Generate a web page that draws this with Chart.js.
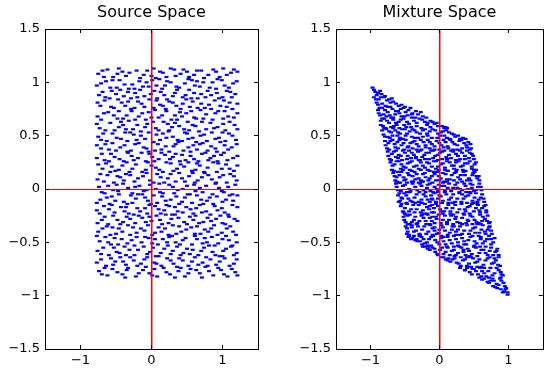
<!DOCTYPE html>
<html>
<head>
<meta charset="utf-8">
<script src="https://cdn.jsdelivr.net/npm/chart.js@4.4.1/dist/chart.umd.min.js"></script>
<style>
  body { margin: 0; background: #fff; }
  #wrap { position: relative; width: 549px; height: 369px; }
  canvas { position: absolute; top: 0; }
  #srcChart { left: 0; }
  #mixChart { left: 290px; }
</style>
</head>
<body>
<div id="wrap">
  <canvas id="srcChart" width="290" height="369"></canvas>
  <canvas id="mixChart" width="259" height="369"></canvas>
</div>
<script>
const titles = ['Source Space', 'Mixture Space'];
const xTicks = [-1, 0, 1];
const xTickLabels = ['\u22121', '0', '1'];
const yTicks = [-1.5, -1, -0.5, 0, 0.5, 1, 1.5];
const yTickLabels = ['\u22121.5', '\u22121', '\u22120.5', '0', '0.5', '1', '1.5'];

// points, band by band from the bottom
const sourcePoints = [
  [-0.74,-0.77],[-0.62,-0.81],[-0.55,-0.75],[-0.41,-0.80],[-0.33,-0.74],[-0.22,-0.82],[-0.12,-0.76],[-0.03,-0.79],[0.08,-0.82],[0.17,-0.74],[0.26,-0.80],[0.38,-0.77],[0.47,-0.82],[0.55,-0.75],[0.68,-0.79],[0.76,-0.73],[0.87,-0.81],[0.98,-0.76],[1.07,-0.82],[1.18,-0.78],
  [-0.71,-0.66],[-0.64,-0.72],[-0.51,-0.68],[-0.44,-0.64],[-0.36,-0.71],[-0.25,-0.67],[-0.15,-0.70],[-0.06,-0.64],[0.04,-0.69],[0.14,-0.72],[0.22,-0.65],[0.31,-0.70],[0.44,-0.67],[0.52,-0.72],[0.61,-0.64],[0.72,-0.69],[0.83,-0.66],[0.91,-0.71],[1.03,-0.65],[1.16,-0.70],
  [-0.76,-0.58],[-0.60,-0.62],[-0.53,-0.55],[-0.45,-0.60],[-0.31,-0.57],[-0.24,-0.62],[-0.11,-0.54],[-0.02,-0.59],[0.06,-0.63],[0.18,-0.56],[0.27,-0.61],[0.36,-0.54],[0.45,-0.60],[0.58,-0.57],[0.66,-0.62],[0.74,-0.55],[0.86,-0.59],[0.96,-0.63],[1.05,-0.56],[1.20,-0.60],
  [-0.73,-0.49],[-0.65,-0.45],[-0.57,-0.52],[-0.42,-0.47],[-0.34,-0.51],[-0.21,-0.45],[-0.14,-0.50],[-0.04,-0.46],[0.09,-0.52],[0.16,-0.47],[0.29,-0.44],[0.34,-0.50],[0.48,-0.46],[0.57,-0.52],[0.64,-0.47],[0.78,-0.50],[0.85,-0.45],[0.94,-0.51],[1.09,-0.48],[1.14,-0.53],
  [-0.75,-0.40],[-0.63,-0.35],[-0.50,-0.42],[-0.46,-0.37],[-0.30,-0.43],[-0.26,-0.36],[-0.10,-0.39],[-0.05,-0.34],[0.05,-0.41],[0.19,-0.37],[0.24,-0.43],[0.39,-0.35],[0.42,-0.40],[0.56,-0.36],[0.69,-0.42],[0.75,-0.38],[0.88,-0.34],[0.99,-0.41],[1.06,-0.37],[1.19,-0.43],
  [-0.70,-0.29],[-0.61,-0.33],[-0.54,-0.25],[-0.40,-0.31],[-0.35,-0.26],[-0.23,-0.32],[-0.13,-0.27],[0.00,-0.30],[0.07,-0.25],[0.15,-0.33],[0.28,-0.28],[0.33,-0.24],[0.46,-0.31],[0.54,-0.26],[0.67,-0.32],[0.79,-0.27],[0.84,-0.30],[0.97,-0.25],[1.04,-0.33],[1.17,-0.28],
  [-0.77,-0.20],[-0.67,-0.16],[-0.52,-0.22],[-0.43,-0.17],[-0.32,-0.23],[-0.20,-0.18],[-0.16,-0.21],[-0.03,-0.15],[0.10,-0.19],[0.13,-0.23],[0.25,-0.16],[0.37,-0.21],[0.49,-0.17],[0.59,-0.23],[0.63,-0.18],[0.71,-0.22],[0.89,-0.16],[0.93,-0.20],[1.08,-0.24],[1.21,-0.17],
  [-0.72,-0.10],[-0.59,-0.14],[-0.56,-0.07],[-0.39,-0.12],[-0.29,-0.06],[-0.27,-0.13],[-0.09,-0.08],[-0.01,-0.14],[0.03,-0.06],[0.20,-0.11],[0.21,-0.15],[0.35,-0.07],[0.43,-0.12],[0.51,-0.05],[0.70,-0.10],[0.73,-0.14],[0.82,-0.08],[1.00,-0.12],[1.10,-0.06],[1.15,-0.11],
  [-0.74,0.02],[-0.66,-0.04],[-0.49,0.04],[-0.47,-0.02],[-0.33,0.01],[-0.19,-0.05],[-0.17,0.03],[-0.07,-0.01],[0.11,0.05],[0.12,-0.03],[0.30,0.02],[0.32,-0.04],[0.44,0.00],[0.60,0.04],[0.62,-0.02],[0.77,0.03],[0.86,-0.05],[0.95,0.01],[1.02,-0.03],[1.18,0.04],
  [-0.76,0.09],[-0.62,0.13],[-0.53,0.06],[-0.44,0.11],[-0.36,0.14],[-0.24,0.07],[-0.12,0.12],[-0.02,0.08],[0.08,0.14],[0.18,0.06],[0.23,0.10],[0.39,0.15],[0.47,0.07],[0.53,0.12],[0.65,0.08],[0.80,0.13],[0.91,0.06],[0.96,0.11],[1.11,0.14],[1.20,0.08],
  [-0.69,0.19],[-0.64,0.24],[-0.51,0.17],[-0.41,0.22],[-0.31,0.16],[-0.22,0.23],[-0.08,0.18],[-0.05,0.25],[0.06,0.20],[0.16,0.16],[0.27,0.24],[0.36,0.19],[0.41,0.23],[0.57,0.17],[0.68,0.22],[0.74,0.16],[0.87,0.25],[0.99,0.19],[1.05,0.23],[1.16,0.17],
  [-0.77,0.29],[-0.60,0.26],[-0.57,0.33],[-0.45,0.28],[-0.28,0.31],[-0.25,0.27],[-0.14,0.34],[0.01,0.30],[0.04,0.26],[0.19,0.32],[0.26,0.28],[0.34,0.33],[0.48,0.27],[0.55,0.31],[0.66,0.26],[0.76,0.34],[0.83,0.29],[0.98,0.32],[1.07,0.27],[1.21,0.31],
  [-0.71,0.38],[-0.65,0.42],[-0.50,0.36],[-0.38,0.41],[-0.34,0.35],[-0.18,0.43],[-0.11,0.39],[-0.04,0.35],[0.09,0.42],[0.14,0.37],[0.31,0.40],[0.38,0.44],[0.45,0.36],[0.59,0.41],[0.64,0.37],[0.72,0.43],[0.90,0.38],[0.92,0.35],[1.03,0.41],[1.13,0.39],
  [-0.75,0.49],[-0.63,0.45],[-0.55,0.52],[-0.43,0.47],[-0.30,0.53],[-0.21,0.46],[-0.15,0.50],[0.02,0.44],[0.07,0.51],[0.21,0.48],[0.24,0.54],[0.37,0.46],[0.50,0.52],[0.52,0.47],[0.69,0.50],[0.78,0.45],[0.85,0.53],[0.95,0.48],[1.09,0.52],[1.19,0.46],
  [-0.73,0.57],[-0.58,0.62],[-0.52,0.55],[-0.40,0.60],[-0.32,0.64],[-0.26,0.56],[-0.06,0.61],[-0.09,0.58],[0.10,0.55],[0.17,0.63],[0.29,0.58],[0.33,0.62],[0.46,0.56],[0.58,0.60],[0.67,0.54],[0.71,0.63],[0.88,0.57],[1.01,0.61],[1.04,0.55],[1.17,0.60],
  [-0.76,0.68],[-0.61,0.72],[-0.48,0.66],[-0.46,0.73],[-0.35,0.69],[-0.23,0.65],[-0.13,0.71],[0.00,0.67],[0.05,0.74],[0.15,0.69],[0.28,0.65],[0.40,0.72],[0.43,0.68],[0.56,0.73],[0.63,0.66],[0.77,0.70],[0.86,0.65],[0.94,0.73],[1.08,0.68],[1.21,0.71],
  [-0.72,0.78],[-0.66,0.83],[-0.53,0.76],[-0.42,0.81],[-0.29,0.75],[-0.19,0.82],[-0.10,0.77],[-0.03,0.84],[0.12,0.79],[0.20,0.75],[0.25,0.82],[0.35,0.78],[0.49,0.84],[0.54,0.77],[0.70,0.80],[0.75,0.76],[0.89,0.83],[0.97,0.78],[1.10,0.81],[1.14,0.75],
  [-0.74,0.88],[-0.59,0.85],[-0.56,0.92],[-0.39,0.87],[-0.33,0.91],[-0.20,0.86],[-0.16,0.93],[-0.01,0.89],[0.08,0.85],[0.13,0.91],[0.30,0.87],[0.36,0.93],[0.44,0.86],[0.60,0.90],[0.65,0.85],[0.79,0.92],[0.84,0.88],[1.00,0.86],[1.06,0.92],[1.18,0.89],
  [-0.77,0.97],[-0.64,1.01],[-0.49,0.95],[-0.45,1.02],[-0.27,0.98],[-0.24,0.94],[-0.07,1.00],[-0.04,0.96],[0.11,1.03],[0.19,0.97],[0.22,1.01],[0.39,0.95],[0.47,0.99],[0.57,1.02],[0.68,0.96],[0.73,1.00],[0.91,0.94],[0.93,1.03],[1.03,0.97],[1.20,1.01],
  [-0.75,1.08],[-0.62,1.12],[-0.54,1.05],[-0.41,1.10],[-0.36,1.06],[-0.21,1.11],[-0.11,1.07],[0.03,1.13],[0.06,1.04],[0.16,1.09],[0.32,1.12],[0.34,1.06],[0.50,1.10],[0.53,1.05],[0.64,1.11],[0.80,1.07],[0.87,1.12],[0.96,1.05],[1.12,1.09],[1.16,1.12],
  [-0.70,-0.80],[-0.66,-0.74],[-0.48,-0.78],[-0.37,-0.83],[-0.35,-0.76],[-0.18,-0.79],[-0.08,-0.73],[0.01,-0.81],[0.04,-0.75],[0.21,-0.78],[0.33,-0.83],[0.41,-0.74],[0.52,-0.79],[0.63,-0.76],[0.71,-0.83],[0.81,-0.77],[0.94,-0.74],[1.02,-0.80],[1.13,-0.75],[1.21,-0.81],
  [-0.77,-0.69],[-0.57,-0.65],[-0.54,-0.71],[-0.40,-0.68],[-0.30,-0.64],[-0.20,-0.72],[-0.10,-0.66],[0.07,-0.70],[0.10,-0.63],[0.27,-0.67],[0.36,-0.73],[0.39,-0.65],[0.57,-0.68],[0.66,-0.71],[0.77,-0.64],[0.79,-0.72],[0.96,-0.68],[1.00,-0.63],[1.10,-0.72],[1.20,-0.66],
  [-0.68,-0.55],[-0.71,-0.61],[-0.49,-0.59],[-0.38,-0.54],[-0.36,-0.62],[-0.19,-0.57],[-0.06,-0.61],[0.02,-0.55],[0.13,-0.60],[0.23,-0.53],[0.30,-0.58],[0.41,-0.62],[0.50,-0.56],[0.54,-0.61],[0.70,-0.58],[0.81,-0.53],[0.90,-0.62],[1.01,-0.58],[1.12,-0.54],[1.16,-0.62],
  [-0.77,-0.44],[-0.61,-0.50],[-0.52,-0.46],[-0.47,-0.52],[-0.28,-0.48],[-0.24,-0.53],[-0.09,-0.45],[0.01,-0.51],[0.05,-0.47],[0.22,-0.50],[0.25,-0.45],[0.40,-0.52],[0.44,-0.48],[0.61,-0.44],[0.72,-0.51],[0.75,-0.46],[0.89,-0.53],[1.00,-0.47],[1.05,-0.44],[1.20,-0.50],
  [-0.69,-0.37],[-0.58,-0.43],[-0.55,-0.36],[-0.41,-0.40],[-0.33,-0.34],[-0.21,-0.41],[-0.15,-0.37],[0.01,-0.43],[0.10,-0.36],[0.14,-0.40],[0.30,-0.34],[0.35,-0.42],[0.49,-0.38],[0.61,-0.42],[0.64,-0.35],[0.80,-0.40],[0.84,-0.37],[0.93,-0.43],[1.11,-0.35],[1.15,-0.40],
  [-0.76,-0.32],[-0.66,-0.26],[-0.48,-0.29],[-0.44,-0.33],[-0.30,-0.28],[-0.18,-0.25],[-0.08,-0.31],[-0.03,-0.26],[0.12,-0.29],[0.20,-0.24],[0.24,-0.32],[0.38,-0.27],[0.50,-0.33],[0.59,-0.29],[0.62,-0.25],[0.73,-0.31],[0.91,-0.28],[1.00,-0.32],[1.09,-0.26],[1.21,-0.30],
  [-0.73,-0.23],[-0.60,-0.19],[-0.56,-0.15],[-0.38,-0.21],[-0.36,-0.17],[-0.25,-0.24],[-0.09,-0.18],[-0.06,-0.23],[0.05,-0.16],[0.18,-0.20],[0.29,-0.24],[0.33,-0.17],[0.44,-0.22],[0.55,-0.19],[0.68,-0.15],[0.77,-0.21],[0.83,-0.24],[0.99,-0.18],[1.03,-0.22],[1.14,-0.15],
  [-0.77,-0.13],[-0.63,-0.08],[-0.51,-0.11],[-0.46,-0.05],[-0.34,-0.14],[-0.22,-0.09],[-0.13,-0.05],[-0.05,-0.11],[0.08,-0.13],[0.15,-0.07],[0.27,-0.10],[0.39,-0.14],[0.47,-0.08],[0.57,-0.13],[0.64,-0.06],[0.78,-0.11],[0.87,-0.14],[0.92,-0.07],[1.05,-0.10],[1.21,-0.06],
  [-0.70,-0.03],[-0.61,0.03],[-0.54,-0.01],[-0.40,0.05],[-0.27,-0.04],[-0.23,0.02],[-0.11,-0.02],[-0.02,0.04],[0.06,0.00],[0.16,-0.04],[0.25,0.04],[0.37,-0.01],[0.50,0.03],[0.54,-0.05],[0.68,0.01],[0.72,-0.03],[0.90,0.05],[0.99,-0.02],[1.08,0.02],[1.14,-0.05],
  [-0.72,0.14],[-0.67,0.07],[-0.48,0.12],[-0.39,0.08],[-0.30,0.13],[-0.19,0.10],[-0.07,0.15],[0.03,0.06],[0.13,0.11],[0.27,0.14],[0.34,0.07],[0.43,0.10],[0.58,0.15],[0.61,0.06],[0.71,0.11],[0.75,0.15],[0.85,0.09],[1.01,0.13],[1.06,0.06],[1.16,0.12],
  [-0.75,0.23],[-0.58,0.16],[-0.56,0.21],[-0.46,0.18],[-0.35,0.25],[-0.27,0.19],[-0.13,0.16],[0.00,0.22],[0.11,0.18],[0.21,0.25],[0.31,0.17],[0.46,0.21],[0.52,0.25],[0.62,0.18],[0.64,0.24],[0.79,0.20],[0.92,0.16],[0.94,0.24],[1.10,0.19],[1.21,0.22],
  [-0.70,0.33],[-0.66,0.27],[-0.52,0.30],[-0.39,0.26],[-0.33,0.34],[-0.19,0.29],[-0.08,0.26],[-0.03,0.33],[0.10,0.28],[0.14,0.34],[0.30,0.30],[0.40,0.26],[0.43,0.32],[0.60,0.28],[0.71,0.33],[0.80,0.27],[0.88,0.31],[0.93,0.26],[1.02,0.34],[1.15,0.29],
  [-0.77,0.41],[-0.60,0.37],[-0.55,0.43],[-0.44,0.39],[-0.29,0.36],[-0.23,0.42],[-0.07,0.38],[0.03,0.44],[0.05,0.36],[0.20,0.40],[0.25,0.35],[0.34,0.42],[0.52,0.39],[0.55,0.35],[0.68,0.42],[0.79,0.36],[0.84,0.40],[0.97,0.44],[1.08,0.37],[1.20,0.42],
  [-0.68,0.52],[-0.71,0.46],[-0.49,0.48],[-0.37,0.53],[-0.34,0.45],[-0.25,0.51],[-0.09,0.47],[-0.04,0.53],[0.12,0.46],[0.16,0.52],[0.30,0.49],[0.43,0.45],[0.47,0.53],[0.58,0.48],[0.63,0.44],[0.74,0.51],[0.90,0.47],[1.00,0.53],[1.04,0.45],[1.14,0.50],
  [-0.77,0.61],[-0.65,0.55],[-0.46,0.58],[-0.43,0.63],[-0.36,0.56],[-0.20,0.60],[-0.15,0.54],[0.02,0.63],[0.06,0.57],[0.23,0.61],[0.25,0.55],[0.39,0.59],[0.51,0.63],[0.53,0.55],[0.62,0.59],[0.77,0.56],[0.83,0.62],[0.93,0.58],[1.10,0.63],[1.21,0.56],
  [-0.71,0.65],[-0.67,0.71],[-0.53,0.69],[-0.40,0.66],[-0.28,0.73],[-0.18,0.68],[-0.08,0.65],[-0.04,0.72],[0.10,0.67],[0.21,0.73],[0.33,0.69],[0.36,0.65],[0.49,0.71],[0.60,0.67],[0.69,0.74],[0.73,0.66],[0.90,0.71],[1.01,0.66],[1.03,0.73],[1.16,0.67],
  [-0.76,0.81],[-0.57,0.77],[-0.47,0.84],[-0.37,0.78],[-0.33,0.82],[-0.24,0.76],[-0.14,0.80],[0.03,0.76],[0.07,0.83],[0.16,0.78],[0.30,0.81],[0.41,0.75],[0.44,0.80],[0.58,0.82],[0.65,0.76],[0.81,0.79],[0.84,0.75],[1.02,0.83],[1.06,0.77],[1.21,0.80],
  [-0.69,0.91],[-0.65,0.86],[-0.50,0.89],[-0.44,0.93],[-0.29,0.85],[-0.23,0.90],[-0.10,0.87],[0.04,0.92],[0.18,0.88],[0.22,0.84],[0.33,0.90],[0.48,0.88],[0.53,0.93],[0.56,0.85],[0.70,0.89],[0.76,0.86],[0.92,0.90],[0.95,0.85],[1.11,0.91],[1.13,0.86],
  [-0.71,0.99],[-0.58,0.95],[-0.55,1.02],[-0.38,0.98],[-0.32,0.94],[-0.17,1.01],[-0.12,0.96],[0.01,1.02],[0.07,0.97],[0.15,0.94],[0.27,1.00],[0.35,0.96],[0.52,1.03],[0.61,0.97],[0.64,1.01],[0.82,0.95],[0.86,1.00],[0.99,1.02],[1.09,0.95],[1.15,0.99],
  [-0.69,1.11],[-0.67,1.05],[-0.48,1.08],[-0.46,1.13],[-0.31,1.09],[-0.16,1.04],[-0.06,1.11],[0.00,1.06],[0.12,1.10],[0.21,1.05],[0.27,1.13],[0.41,1.08],[0.45,1.12],[0.60,1.07],[0.70,1.11],[0.74,1.04],[0.91,1.10],[1.01,1.13],[1.06,1.07],[1.21,1.10]
];

// points (the skewed parallelogram), top to bottom
const mixturePoints = [
  [-0.97,0.95],[-0.93,0.91],[-0.84,0.89],[-0.79,0.87],
  [-0.92,0.84],[-0.85,0.86],[-0.76,0.83],[-0.69,0.85],[-0.89,0.79],[-0.78,0.78],[-0.63,0.80],[-0.55,0.79],[-0.71,0.81],
  [-0.89,0.74],[-0.83,0.76],[-0.75,0.72],[-0.68,0.75],[-0.60,0.73],[-0.52,0.76],[-0.45,0.74],[-0.39,0.71],[-0.86,0.69],[-0.77,0.68],[-0.64,0.70],[-0.55,0.68],[-0.31,0.70],[-0.24,0.68],[-0.46,0.69],
  [-0.85,0.64],[-0.80,0.66],[-0.73,0.62],[-0.67,0.65],[-0.59,0.63],[-0.52,0.66],[-0.44,0.61],[-0.37,0.64],[-0.29,0.66],[-0.21,0.63],[-0.13,0.64],[-0.82,0.59],[-0.70,0.58],[-0.62,0.60],[-0.48,0.58],[-0.33,0.59],[-0.18,0.60],[-0.07,0.61],[0.04,0.59],[0.09,0.58],
  [-0.83,0.55],[-0.77,0.56],[-0.70,0.53],[-0.64,0.55],[-0.57,0.52],[-0.50,0.56],[-0.43,0.54],[-0.36,0.55],[-0.28,0.52],[-0.21,0.56],[-0.14,0.54],[-0.06,0.55],[0.02,0.53],[0.10,0.55],[0.18,0.52],[-0.79,0.49],[-0.72,0.48],[-0.61,0.50],[-0.53,0.47],[-0.40,0.49],[-0.31,0.48],[-0.17,0.50],[-0.03,0.48],[0.07,0.50],[0.23,0.49],[0.34,0.48],[0.15,0.47],
  [-0.79,0.45],[-0.74,0.43],[-0.68,0.46],[-0.61,0.44],[-0.55,0.41],[-0.49,0.46],[-0.42,0.43],[-0.36,0.45],[-0.30,0.40],[-0.23,0.44],[-0.17,0.46],[-0.11,0.42],[-0.04,0.45],[0.03,0.41],[0.09,0.44],[0.16,0.46],[0.22,0.42],[0.29,0.45],[0.36,0.43],[0.42,0.44],[-0.76,0.38],[-0.64,0.39],[-0.51,0.37],[-0.39,0.38],[-0.26,0.37],[-0.14,0.38],[0.00,0.37],[0.13,0.38],[0.26,0.37],[0.40,0.39],[0.46,0.38],
  [-0.75,0.35],[-0.69,0.33],[-0.63,0.36],[-0.56,0.31],[-0.50,0.34],[-0.44,0.36],[-0.37,0.32],[-0.31,0.35],[-0.25,0.30],[-0.19,0.34],[-0.12,0.36],[-0.06,0.31],[0.01,0.34],[0.07,0.36],[0.14,0.32],[0.20,0.35],[0.27,0.31],[0.33,0.34],[0.40,0.36],[0.47,0.33],[-0.72,0.28],[-0.60,0.29],[-0.47,0.28],[-0.34,0.29],[-0.21,0.28],[-0.09,0.29],[0.04,0.28],[0.17,0.29],[0.30,0.28],[0.43,0.29],[0.50,0.28],
  [-0.71,0.25],[-0.65,0.23],[-0.59,0.26],[-0.52,0.21],[-0.46,0.24],[-0.40,0.26],[-0.33,0.22],[-0.27,0.25],[-0.21,0.20],[-0.15,0.24],[-0.08,0.26],[-0.02,0.21],[0.05,0.24],[0.11,0.26],[0.18,0.22],[0.24,0.25],[0.31,0.21],[0.37,0.24],[0.44,0.26],[0.51,0.23],[-0.69,0.18],[-0.56,0.19],[-0.43,0.18],[-0.30,0.19],[-0.17,0.18],[-0.05,0.19],[0.08,0.18],[0.21,0.19],[0.34,0.18],[0.47,0.19],[0.53,0.18],
  [-0.67,0.15],[-0.62,0.11],[-0.55,0.16],[-0.49,0.09],[-0.44,0.13],[-0.36,0.16],[-0.30,0.10],[-0.24,0.14],[-0.16,0.08],[-0.11,0.12],[-0.03,0.16],[0.02,0.10],[0.09,0.14],[0.15,0.09],[0.22,0.15],[0.27,0.11],[0.35,0.16],[0.40,0.08],[0.48,0.13],[0.55,0.10],[-0.64,0.08],[-0.58,0.13],[-0.40,0.07],[-0.20,0.11],[0.00,0.08],[0.12,0.17],[0.31,0.13],[0.51,0.16],[0.58,0.08],[-0.07,0.14],
  [-0.63,0.05],[-0.60,-0.01],[-0.53,0.03],[-0.47,0.06],[-0.42,-0.02],[-0.35,0.02],[-0.28,0.05],[-0.23,-0.01],[-0.17,0.04],[-0.10,0.06],[-0.04,0.00],[0.03,0.03],[0.08,-0.02],[0.14,0.05],[0.20,0.01],[0.26,0.06],[0.33,-0.01],[0.38,0.03],[0.45,0.05],[0.50,-0.02],[0.56,0.02],[0.61,-0.01],[-0.57,0.06],[-0.38,0.07],[-0.13,-0.02],[0.11,0.07],[0.30,0.00],[0.47,0.01],[-0.25,0.07],[-0.01,0.04],
  [-0.60,-0.06],[-0.57,-0.11],[-0.51,-0.04],[-0.45,-0.09],[-0.39,-0.12],[-0.33,-0.05],[-0.26,-0.10],[-0.20,-0.07],[-0.14,-0.12],[-0.07,-0.04],[-0.02,-0.09],[0.05,-0.11],[0.10,-0.05],[0.17,-0.08],[0.23,-0.12],[0.29,-0.04],[0.35,-0.09],[0.42,-0.06],[0.48,-0.11],[0.53,-0.04],[0.60,-0.08],[0.65,-0.12],[-0.48,-0.13],[-0.29,-0.03],[-0.10,-0.10],[0.13,-0.13],[0.39,-0.03],[0.57,-0.10],[-0.55,-0.08],[0.00,-0.06],
  [-0.56,-0.16],[-0.53,-0.21],[-0.47,-0.14],[-0.41,-0.19],[-0.36,-0.22],[-0.30,-0.15],[-0.24,-0.20],[-0.18,-0.17],[-0.11,-0.22],[-0.05,-0.14],[0.01,-0.19],[0.07,-0.21],[0.13,-0.15],[0.19,-0.18],[0.26,-0.22],[0.32,-0.14],[0.37,-0.19],[0.44,-0.16],[0.50,-0.21],[0.55,-0.14],[0.62,-0.18],[0.68,-0.22],[-0.50,-0.23],[-0.26,-0.13],[-0.08,-0.18],[0.16,-0.23],[0.40,-0.13],[0.58,-0.20],[0.67,-0.15],[-0.14,-0.16],
  [-0.52,-0.26],[-0.49,-0.31],[-0.43,-0.24],[-0.37,-0.29],[-0.32,-0.32],[-0.26,-0.25],[-0.20,-0.30],[-0.14,-0.27],[-0.07,-0.32],[-0.01,-0.24],[0.05,-0.29],[0.11,-0.31],[0.17,-0.25],[0.23,-0.28],[0.30,-0.32],[0.36,-0.24],[0.41,-0.29],[0.48,-0.26],[0.54,-0.31],[0.59,-0.24],[0.66,-0.28],[0.72,-0.32],[-0.46,-0.33],[-0.22,-0.23],[-0.04,-0.28],[0.20,-0.33],[0.44,-0.23],[0.62,-0.30],[0.70,-0.25],[-0.10,-0.26],
  [-0.49,-0.35],[-0.46,-0.40],[-0.40,-0.34],[-0.34,-0.39],[-0.29,-0.42],[-0.22,-0.35],[-0.16,-0.40],[-0.10,-0.37],[-0.04,-0.42],[0.03,-0.34],[0.08,-0.39],[0.15,-0.41],[0.21,-0.35],[0.27,-0.38],[0.33,-0.42],[0.40,-0.34],[0.45,-0.39],[0.52,-0.36],[0.58,-0.41],[0.63,-0.34],[0.70,-0.38],[0.76,-0.42],[-0.44,-0.43],[-0.19,-0.33],[0.00,-0.38],[0.24,-0.43],[0.48,-0.33],[0.66,-0.40],[0.73,-0.35],[-0.07,-0.36],
  [-0.45,-0.45],[-0.41,-0.47],[-0.37,-0.44],[-0.32,-0.49],[-0.26,-0.45],[-0.21,-0.51],[-0.15,-0.47],[-0.09,-0.44],[-0.03,-0.50],[0.03,-0.46],[0.09,-0.52],[0.15,-0.48],[0.21,-0.44],[0.27,-0.50],[0.33,-0.46],[0.39,-0.52],[0.45,-0.45],[0.51,-0.49],[0.57,-0.44],[0.63,-0.51],[0.69,-0.47],[0.75,-0.52],[0.80,-0.46],[-0.25,-0.52],[-0.12,-0.53],[0.06,-0.45],[0.36,-0.49],[0.60,-0.47],[-0.33,-0.47],
  [-0.24,-0.54],[-0.17,-0.56],[-0.10,-0.55],[-0.06,-0.59],[0.01,-0.57],[0.06,-0.61],[0.12,-0.55],[0.18,-0.58],[0.24,-0.62],[0.29,-0.54],[0.35,-0.59],[0.41,-0.56],[0.47,-0.61],[0.53,-0.55],[0.58,-0.60],[0.64,-0.57],[0.70,-0.62],[0.75,-0.55],[0.81,-0.59],[0.86,-0.62],[-0.02,-0.62],[0.21,-0.54],[0.44,-0.63],[0.67,-0.54],[0.84,-0.56],
  [0.03,-0.64],[0.09,-0.66],[0.16,-0.68],[0.22,-0.65],[0.28,-0.70],[0.34,-0.67],[0.40,-0.72],[0.46,-0.64],[0.52,-0.69],[0.58,-0.66],[0.64,-0.71],[0.70,-0.65],[0.76,-0.70],[0.82,-0.67],[0.88,-0.72],[0.31,-0.64],[0.55,-0.73],[0.86,-0.64],[0.13,-0.65],
  [0.30,-0.74],[0.37,-0.76],[0.44,-0.78],[0.50,-0.75],[0.56,-0.80],[0.62,-0.77],[0.68,-0.82],[0.74,-0.74],[0.80,-0.79],[0.86,-0.76],[0.92,-0.81],[0.65,-0.74],[0.89,-0.83],[0.58,-0.83],
  [0.62,-0.85],[0.70,-0.87],[0.77,-0.84],[0.83,-0.89],[0.90,-0.86],[0.95,-0.91],[0.81,-0.92],[0.74,-0.86],
  [0.89,-0.94],[0.94,-0.96],[0.99,-0.99],[0.97,-0.93],
  [-0.95,0.93],[-0.89,0.90],[-0.86,0.92],[-0.91,0.88],
  [-0.95,0.86],[-0.88,0.84],[-0.80,0.86],[-0.73,0.84],[-0.91,0.81],[-0.83,0.80],[-0.67,0.82],[-0.59,0.78],[-0.75,0.77],[-0.50,0.77],
  [-0.87,0.76],[-0.79,0.74],[-0.71,0.77],[-0.63,0.73],[-0.56,0.75],[-0.49,0.72],[-0.42,0.76],[-0.34,0.73],[-0.88,0.71],[-0.81,0.70],[-0.72,0.69],[-0.67,0.67],[-0.58,0.71],[-0.51,0.68],[-0.40,0.70],[-0.35,0.67],[-0.27,0.72],[-0.19,0.67],
  [-0.83,0.66],[-0.76,0.64],[-0.70,0.67],[-0.63,0.62],[-0.56,0.65],[-0.47,0.63],[-0.40,0.67],[-0.33,0.62],[-0.25,0.65],[-0.17,0.62],[-0.10,0.63],[-0.04,0.62],[-0.85,0.60],[-0.78,0.57],[-0.66,0.59],[-0.58,0.57],[-0.51,0.60],[-0.41,0.58],[-0.26,0.57],[-0.13,0.58],[-0.02,0.59],[0.07,0.57],[0.11,0.57],
  [-0.80,0.57],[-0.73,0.54],[-0.67,0.57],[-0.60,0.53],[-0.54,0.56],[-0.47,0.52],[-0.39,0.56],[-0.33,0.53],[-0.24,0.55],[-0.18,0.52],[-0.10,0.56],[-0.02,0.52],[0.05,0.54],[0.14,0.53],[0.21,0.51],[0.27,0.50],[-0.81,0.51],[-0.75,0.49],[-0.68,0.50],[-0.57,0.48],[-0.49,0.50],[-0.36,0.48],[-0.24,0.49],[-0.11,0.48],[0.01,0.50],[0.11,0.48],[0.30,0.47],[0.38,0.47],
  [-0.78,0.41],[-0.71,0.45],[-0.65,0.42],[-0.58,0.46],[-0.52,0.43],[-0.45,0.40],[-0.39,0.44],[-0.33,0.42],[-0.27,0.46],[-0.20,0.41],[-0.14,0.44],[-0.07,0.40],[0.00,0.43],[0.06,0.46],[0.12,0.40],[0.19,0.44],[0.26,0.41],[0.32,0.46],[0.39,0.41],[0.45,0.42],[-0.73,0.37],[-0.60,0.38],[-0.46,0.39],[-0.33,0.37],[-0.20,0.39],[-0.07,0.37],[0.06,0.39],[0.20,0.37],[0.33,0.38],[0.44,0.37],
  [-0.74,0.31],[-0.66,0.35],[-0.59,0.32],[-0.53,0.36],[-0.46,0.31],[-0.40,0.34],[-0.34,0.30],[-0.28,0.36],[-0.22,0.32],[-0.15,0.34],[-0.09,0.36],[-0.02,0.32],[0.04,0.35],[0.10,0.30],[0.17,0.36],[0.24,0.33],[0.30,0.36],[0.37,0.31],[0.44,0.34],[0.49,0.31],[-0.70,0.27],[-0.63,0.30],[-0.54,0.27],[-0.41,0.29],[-0.28,0.27],[-0.15,0.28],[-0.02,0.27],[0.11,0.28],[0.24,0.27],[0.37,0.28],
  [-0.68,0.22],[-0.62,0.26],[-0.55,0.23],[-0.49,0.20],[-0.43,0.25],[-0.37,0.21],[-0.30,0.27],[-0.24,0.22],[-0.18,0.25],[-0.11,0.21],[-0.05,0.26],[0.02,0.23],[0.08,0.20],[0.15,0.25],[0.21,0.22],[0.28,0.26],[0.34,0.22],[0.41,0.24],[0.47,0.21],[0.53,0.25],[-0.66,0.17],[-0.53,0.18],[-0.40,0.17],[-0.27,0.18],[-0.14,0.17],[-0.01,0.18],[0.12,0.17],[0.25,0.18],[0.38,0.17],[0.50,0.18],
  [-0.65,0.12],[-0.60,0.16],[-0.52,0.11],[-0.46,0.15],[-0.39,0.12],[-0.33,0.14],[-0.27,0.08],[-0.21,0.15],[-0.14,0.10],[-0.08,0.16],[-0.01,0.12],[0.05,0.15],[0.11,0.09],[0.18,0.13],[0.24,0.16],[0.30,0.09],[0.37,0.13],[0.43,0.10],[0.49,0.15],[0.54,0.12],[-0.62,0.07],[-0.51,0.08],[-0.35,0.09],[-0.24,0.07],[-0.05,0.08],[0.07,0.07],[0.21,0.08],[0.33,0.07],[0.45,0.08],[0.57,0.12],
  [-0.62,0.02],[-0.56,-0.02],[-0.50,0.04],[-0.44,0.00],[-0.39,0.05],[-0.32,-0.01],[-0.26,0.03],[-0.20,-0.03],[-0.14,0.05],[-0.07,0.02],[-0.02,-0.02],[0.05,0.06],[0.12,0.01],[0.17,-0.02],[0.23,0.04],[0.29,-0.03],[0.36,0.05],[0.41,0.00],[0.48,0.04],[0.53,-0.01],[0.58,0.05],[-0.59,0.06],[-0.47,-0.03],[-0.30,0.06],[-0.09,-0.03],[0.07,0.03],[0.26,0.01],[0.44,-0.03],[0.60,0.02],[-0.18,0.01],
  [-0.58,-0.04],[-0.54,-0.09],[-0.48,-0.06],[-0.42,-0.11],[-0.36,-0.08],[-0.30,-0.12],[-0.23,-0.05],[-0.17,-0.10],[-0.12,-0.06],[-0.05,-0.12],[0.02,-0.07],[0.08,-0.03],[0.14,-0.10],[0.20,-0.05],[0.26,-0.09],[0.32,-0.12],[0.38,-0.07],[0.45,-0.04],[0.51,-0.08],[0.55,-0.12],[0.62,-0.05],[-0.59,-0.12],[-0.43,-0.03],[-0.26,-0.13],[-0.02,-0.03],[0.19,-0.13],[0.33,-0.05],[0.49,-0.13],[0.64,-0.09],[-0.11,-0.09],
  [-0.55,-0.14],[-0.50,-0.18],[-0.44,-0.21],[-0.38,-0.15],[-0.33,-0.19],[-0.27,-0.22],[-0.21,-0.14],[-0.15,-0.19],[-0.08,-0.22],[-0.02,-0.16],[0.04,-0.13],[0.10,-0.18],[0.16,-0.21],[0.23,-0.15],[0.29,-0.19],[0.35,-0.23],[0.41,-0.17],[0.47,-0.14],[0.53,-0.18],[0.59,-0.22],[0.65,-0.16],[-0.52,-0.22],[-0.35,-0.13],[-0.18,-0.23],[0.02,-0.21],[0.20,-0.13],[0.38,-0.21],[0.56,-0.15],[0.68,-0.20],[-0.11,-0.15],
  [-0.51,-0.29],[-0.46,-0.25],[-0.40,-0.31],[-0.35,-0.26],[-0.29,-0.30],[-0.23,-0.27],[-0.17,-0.24],[-0.11,-0.30],[-0.05,-0.26],[0.02,-0.32],[0.08,-0.25],[0.14,-0.29],[0.20,-0.24],[0.26,-0.31],[0.33,-0.27],[0.39,-0.32],[0.45,-0.25],[0.51,-0.29],[0.57,-0.32],[0.63,-0.26],[0.69,-0.30],[-0.49,-0.24],[-0.33,-0.33],[-0.14,-0.33],[0.05,-0.23],[0.24,-0.26],[0.42,-0.30],[0.60,-0.33],[0.73,-0.31],[-0.25,-0.24],
  [-0.47,-0.37],[-0.43,-0.33],[-0.37,-0.40],[-0.31,-0.35],[-0.25,-0.38],[-0.19,-0.42],[-0.13,-0.34],[-0.07,-0.39],[-0.01,-0.41],[0.05,-0.36],[0.11,-0.33],[0.18,-0.38],[0.24,-0.40],[0.30,-0.35],[0.36,-0.39],[0.43,-0.42],[0.49,-0.37],[0.55,-0.33],[0.61,-0.38],[0.67,-0.42],[0.72,-0.36],[-0.47,-0.42],[-0.28,-0.43],[-0.10,-0.43],[0.12,-0.43],[0.33,-0.33],[0.52,-0.41],[0.75,-0.39],[-0.40,-0.36],[0.19,-0.35],
  [-0.44,-0.44],[-0.39,-0.46],[-0.35,-0.48],[-0.29,-0.44],[-0.23,-0.47],[-0.18,-0.50],[-0.12,-0.45],[-0.06,-0.48],[0.00,-0.52],[0.06,-0.49],[0.12,-0.45],[0.18,-0.51],[0.24,-0.47],[0.30,-0.43],[0.36,-0.52],[0.42,-0.48],[0.48,-0.44],[0.54,-0.51],[0.60,-0.45],[0.66,-0.49],[0.72,-0.44],[0.78,-0.50],[-0.17,-0.53],[0.03,-0.44],[0.27,-0.53],[0.51,-0.53],[0.75,-0.47],[-0.28,-0.49],
  [-0.21,-0.54],[-0.14,-0.57],[-0.07,-0.56],[-0.03,-0.61],[0.04,-0.55],[0.09,-0.59],[0.15,-0.62],[0.21,-0.57],[0.27,-0.60],[0.32,-0.55],[0.38,-0.62],[0.43,-0.58],[0.50,-0.54],[0.55,-0.63],[0.61,-0.57],[0.67,-0.60],[0.73,-0.58],[0.78,-0.62],[0.83,-0.58],[0.11,-0.54],[0.35,-0.57],[0.59,-0.54],[-0.16,-0.54],
  [0.06,-0.64],[0.12,-0.67],[0.19,-0.66],[0.25,-0.69],[0.31,-0.72],[0.37,-0.66],[0.43,-0.70],[0.49,-0.65],[0.55,-0.68],[0.61,-0.73],[0.67,-0.67],[0.73,-0.64],[0.79,-0.69],[0.85,-0.71],[0.22,-0.63],[0.46,-0.73],[0.80,-0.65],[0.40,-0.64],
  [0.37,-0.76],[0.40,-0.74],[0.47,-0.80],[0.53,-0.77],[0.59,-0.74],[0.65,-0.79],[0.71,-0.77],[0.77,-0.81],[0.83,-0.74],[0.89,-0.78],[0.61,-0.82],[0.72,-0.83],[0.48,-0.75],[0.90,-0.80],
  [0.65,-0.84],[0.72,-0.88],[0.79,-0.86],[0.86,-0.90],[0.93,-0.88],[0.88,-0.84],[0.78,-0.91],[0.84,-0.93],
  [0.92,-0.97],[0.96,-0.94],[0.99,-0.97]
];

const font = 'DejaVu Sans';

// matlab style box: frame plus inward ticks on all four sides
const boxPlugin = {
  id: 'box',
  afterDraw(chart) {
    const ctx = chart.ctx;
    const a = chart.chartArea;
    const xs = chart.scales.x, ys = chart.scales.y;
    const tl = 4;
    ctx.save();
    ctx.strokeStyle = '#000';
    ctx.lineWidth = 1;
    ctx.strokeRect(Math.round(a.left) + 0.5, Math.round(a.top) + 0.5,
      Math.round(a.right - a.left), Math.round(a.bottom - a.top));
    ctx.beginPath();
    xTicks.forEach(v => {
      const px = Math.round(xs.getPixelForValue(v) - 0.5) + 0.5;
      ctx.moveTo(px, a.bottom); ctx.lineTo(px, a.bottom - tl);
      ctx.moveTo(px, a.top); ctx.lineTo(px, a.top + tl);
    });
    yTicks.forEach(v => {
      const py = Math.round(ys.getPixelForValue(v) - 0.5) + 0.5;
      ctx.moveTo(a.left, py); ctx.lineTo(a.left + tl, py);
      ctx.moveTo(a.right, py); ctx.lineTo(a.right - tl, py);
    });
    ctx.stroke();
    ctx.restore();
  }
};

// only the zero grid line is shown, in red, above the points
const zeroGrid = c => (c.tick && c.tick.value === 0) ? 'rgb(255,0,0)' : 'rgba(0,0,0,0)';

function makeChart(id, title, points, axisWidth, padRight) {
  return new Chart(document.getElementById(id), {
    type: 'scatter',
    data: {
      datasets: [{
        data: points,
        pointStyle: 'line',
        pointRadius: 2,
        pointBorderWidth: 2.2,
        pointBorderColor: '#0000ff',
        pointBackgroundColor: '#0000ff'
      }]
    },
    options: {
      responsive: false,
      animation: false,
      events: [],
      layout: { padding: { left: 0, right: padRight, top: 0, bottom: 0 } },
      plugins: {
        legend: { display: false },
        tooltip: { enabled: false },
        title: {
          display: true,
          text: title,
          fullSize: false,
          color: '#000',
          font: { family: font, size: 16, weight: 'normal' },
          padding: { top: 3, bottom: 6.8 }
        }
      },
      scales: {
        x: {
          type: 'linear', min: -1.5, max: 1.5,
          afterBuildTicks: s => { s.ticks = xTicks.map(v => ({ value: v })); },
          afterFit: s => { s.height = 20; },
          grid: { color: zeroGrid, lineWidth: 1.5, drawTicks: false, z: 1 },
          border: { display: false },
          ticks: {
            callback: (v, i) => xTickLabels[i],
            color: '#000', font: { family: font, size: 13 },
            padding: 4, maxRotation: 0, autoSkip: false
          }
        },
        y: {
          type: 'linear', min: -1.5, max: 1.5,
          afterBuildTicks: s => { s.ticks = yTicks.map(v => ({ value: v })); },
          afterFit: s => { s.width = axisWidth; },
          grid: { color: zeroGrid, lineWidth: 1, drawTicks: false, z: 1 },
          border: { display: false },
          ticks: {
            callback: (v, i) => yTickLabels[i],
            color: '#000', font: { family: font, size: 13 },
            padding: 5, autoSkip: false
          }
        }
      }
    },
    plugins: [boxPlugin]
  });
}

makeChart('srcChart', titles[0], sourcePoints, 45, 32);
makeChart('mixChart', titles[1], mixturePoints, 46, 1);
</script>
</body>
</html>
